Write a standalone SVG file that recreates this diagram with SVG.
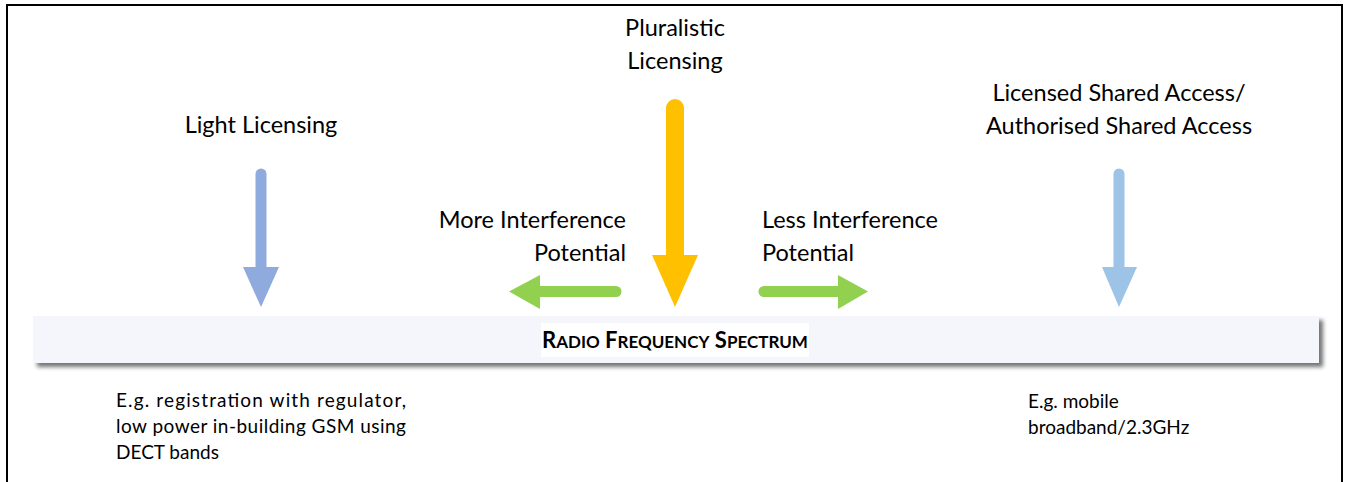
<svg xmlns="http://www.w3.org/2000/svg" width="1347" height="482" viewBox="0 0 1347 482">
  <defs>
    <style>
      .lbl { font-family: Lato, "Liberation Sans", sans-serif; font-size: 23.5px; fill: #000; }
      .note { font-family: Lato, "Liberation Sans", sans-serif; font-size: 19px; fill: #000; }
      .title { font-family: Lato, "Liberation Sans", sans-serif; font-weight: bold; fill: #000; }
    </style>
    <filter id="shadow" x="-5%" y="-40%" width="110%" height="180%">
      <feGaussianBlur in="SourceAlpha" stdDeviation="2"/>
      <feOffset dx="4" dy="4" result="b"/>
      <feComponentTransfer><feFuncA type="linear" slope="0.55"/></feComponentTransfer>
      <feMerge><feMergeNode/><feMergeNode in="SourceGraphic"/></feMerge>
    </filter>
  </defs>

  <rect x="0" y="0" width="1347" height="482" fill="#fff"/>
  <!-- outer frame -->
  <rect x="7" y="5" width="1335" height="490" fill="none" stroke="#000" stroke-width="2"/>

  <!-- spectrum bar -->
  <g id="spectrum">
    <rect x="33" y="316" width="1286" height="47" fill="#F4F6FB" filter="url(#shadow)"/>
    <rect x="541" y="323" width="268" height="34" fill="#fff"/>
    <text class="title" x="675" y="348" text-anchor="middle" font-size="22"><tspan>R</tspan><tspan font-size="17">ADIO</tspan> <tspan>F</tspan><tspan font-size="17">REQUENCY</tspan> <tspan>S</tspan><tspan font-size="17">PECTRUM</tspan></text>
  </g>

  <g id="light-licensing">
    <text class="lbl" x="261" y="133" text-anchor="middle">Light Licensing</text>
  </g>

  <g id="pluralistic-licensing">
    <text class="lbl" x="675" y="36" text-anchor="middle">Pluralistic</text>
    <text class="lbl" x="675" y="69" text-anchor="middle">Licensing</text>
  </g>

  <g id="shared-access">
    <text class="lbl" x="1119" y="101" text-anchor="middle">Licensed Shared Access/</text>
    <text class="lbl" x="1119" y="134" text-anchor="middle">Authorised Shared Access</text>
  </g>

  <g id="more-interference">
    <text class="lbl" x="626" y="228" text-anchor="end">More Interference</text>
    <text class="lbl" x="626" y="261" text-anchor="end">Potential</text>
  </g>

  <g id="less-interference">
    <text class="lbl" x="762" y="228">Less Interference</text>
    <text class="lbl" x="762" y="261">Potential</text>
  </g>

  <g id="light-example">
    <text class="note" x="116" y="407" textLength="290" lengthAdjust="spacing">E.g. registration with regulator,</text>
    <text class="note" x="116" y="433" textLength="290" lengthAdjust="spacing">low power in-building GSM using</text>
    <text class="note" x="116" y="459">DECT bands</text>
  </g>

  <g id="shared-example">
    <text class="note" x="1028" y="408">E.g. mobile</text>
    <text class="note" x="1028" y="434">broadband/2.3GHz</text>
  </g>

  <!-- connectors -->
  <g id="connectors" stroke-linecap="round">
    <line x1="261" y1="174" x2="261" y2="270" stroke="#8FAADC" stroke-width="11"/>
    <polygon points="243,267 279,267 261,307" fill="#8FAADC"/>

    <line x1="675" y1="108" x2="675" y2="258" stroke="#FFC000" stroke-width="18"/>
    <polygon points="652,255 698,255 675,307" fill="#FFC000"/>

    <line x1="1119" y1="174" x2="1119" y2="270" stroke="#9DC3E6" stroke-width="11"/>
    <polygon points="1102,267 1137,267 1119,307" fill="#9DC3E6"/>

    <line x1="616" y1="291.5" x2="538" y2="291.5" stroke="#92D050" stroke-width="11"/>
    <polygon points="540,275 540,309 509,291.5" fill="#92D050"/>

    <line x1="764" y1="291.5" x2="840" y2="291.5" stroke="#92D050" stroke-width="11"/>
    <polygon points="838,275 838,309 868,291.5" fill="#92D050"/>
  </g>
</svg>
